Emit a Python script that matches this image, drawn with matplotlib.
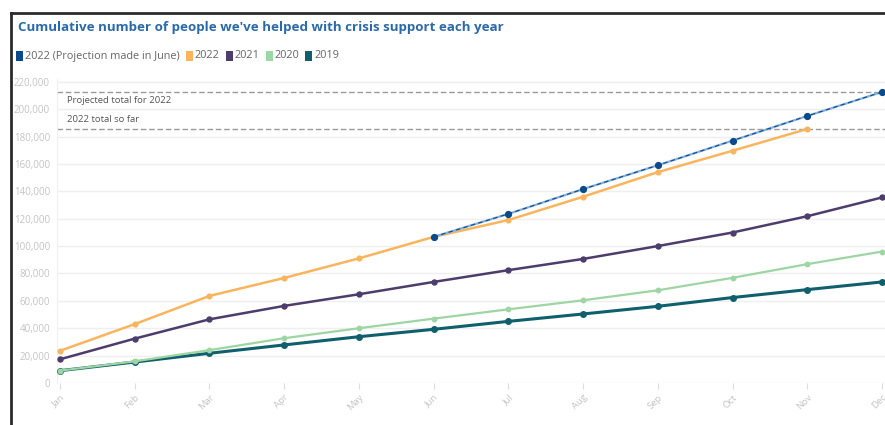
import matplotlib
matplotlib.use("Agg")
import matplotlib.pyplot as plt
from matplotlib.lines import Line2D
from matplotlib.patches import Rectangle
from matplotlib.ticker import FuncFormatter, MultipleLocator

plt.rcParams['font.family'] = ['Open Sans', 'DejaVu Sans']

months = ["Jan", "Feb", "Mar", "Apr", "May", "Jun", "Jul", "Aug", "Sep", "Oct", "Nov", "Dec"]
proj_months = ["Jun", "Jul", "Aug", "Sep", "Oct", "Nov", "Dec"]
proj_2022 = [106700, 123500, 141600, 159000, 177000, 195000, 212500]
y2022 = [23500, 43000, 63600, 76700, 91000, 106700, 119000, 136000, 154000, 169600, 185500]
y2021 = [17300, 32400, 46500, 56300, 64800, 73800, 82400, 90600, 100000, 109900, 121800, 135500]
y2020 = [9000, 15800, 24000, 32700, 40000, 47000, 53800, 60400, 67700, 76800, 86800, 96000]
y2019 = [9000, 15300, 21700, 27800, 33800, 39200, 45000, 50400, 56000, 62400, 68200, 73800]
projected_total = 212500
total_so_far = 185500

W, H = 885, 425
fig = plt.figure(figsize=(W / 100, H / 100), dpi=100)
fig.patch.set_facecolor("white")

ax_left, ax_right, ax_bottom, ax_top = 57, 885, 383, 79
ax = fig.add_axes([ax_left / W, (H - ax_bottom) / H, (ax_right - ax_left) / W, (ax_bottom - ax_top) / H])

xi = list(range(len(months)))
c_proj_line = "#86b1db"
c_proj_mark = "#0b4a8b"
c_2022 = "#f9b55e"
c_2021 = "#4d3c6c"
c_2020 = "#9dd5a3"
c_2019 = "#0f5f6d"

ax.set_ylim(0, 222000)
ax.set_xlim(-0.04, 11.04)
ax.yaxis.set_major_locator(MultipleLocator(20000))
ax.yaxis.set_major_formatter(FuncFormatter(lambda v, p: f"{int(v):,}"))
ax.grid(axis="y", color="#efefef", lw=1)
ax.set_axisbelow(True)
for s in ["top", "right", "bottom"]:
    ax.spines[s].set_visible(False)
ax.spines["left"].set_color("#f0f0f0")
ax.set_xticks(xi)
ax.set_xticklabels(months, rotation=45, ha="right", va="top", rotation_mode="anchor")
ax.tick_params(axis="x", colors="#dddddd", labelcolor="#c4c4c4", labelsize=6.8, length=4, width=0.8, pad=3)
ax.tick_params(axis="y", length=0, labelcolor="#c4c4c4", labelsize=7, pad=5)

ax.axhline(projected_total, color="#9a9a9a", lw=1, ls=(0, (4, 2)), zorder=1)
ax.axhline(total_so_far, color="#9a9a9a", lw=1, ls=(0, (4, 2)), zorder=1)
ax.text(0.1, projected_total - 3000, "Projected total for 2022", fontsize=6.8, color="#555555", va="top", ha="left")
ax.text(0.1, total_so_far + 3500, "2022 total so far", fontsize=6.8, color="#555555", va="bottom", ha="left")

ax.plot(xi, y2019, color=c_2019, lw=2.2, marker="o", ms=4, zorder=3)
ax.plot(xi, y2020, color=c_2020, lw=1.6, marker="o", ms=3.2, zorder=3)
ax.plot(xi, y2021, color=c_2021, lw=1.8, marker="o", ms=3.6, zorder=4)
px = [months.index(m) for m in proj_months]
ax.plot(px, proj_2022, color=c_proj_line, lw=1.6, zorder=5)
ax.plot(px, proj_2022, color=c_proj_mark, lw=0.8, ls=(0, (4, 3)), marker="o", ms=4.2, zorder=5)
ax.plot(xi[:len(y2022)], y2022, color=c_2022, lw=1.8, marker="o", ms=3.4, zorder=4)

fig.text(18 / W, 1 - 28 / H, "Cumulative number of people we've helped with crisis support each year",
         fontsize=9.6, fontweight="bold", color="#2b6aa8", va="center", ha="left")

leg_items = [("2022 (Projection made in June)", c_proj_mark), ("2022", c_2022), ("2021", c_2021),
             ("2020", c_2020), ("2019", c_2019)]
x = 16
ly = 56
renderer = fig.canvas.get_renderer()
for label, col in leg_items:
    fig.add_artist(Rectangle((x / W, 1 - (ly + 5) / H), 7 / W, 10 / H, transform=fig.transFigure,
                             facecolor=col, edgecolor="none"))
    t = fig.text((x + 9) / W, 1 - ly / H, label, fontsize=7.8, color="#666666", va="center", ha="left")
    bb = t.get_window_extent(renderer=renderer)
    x = x + 9 + bb.width + 6

fig.add_artist(Line2D([11 / W, 1], [1 - 13 / H, 1 - 13 / H], transform=fig.transFigure, color="#2a2a2a", lw=2))
fig.add_artist(Line2D([11 / W, 11 / W], [0, 1 - 13 / H], transform=fig.transFigure, color="#2a2a2a", lw=2))

fig.savefig("out.png", dpi=100, facecolor="white")
